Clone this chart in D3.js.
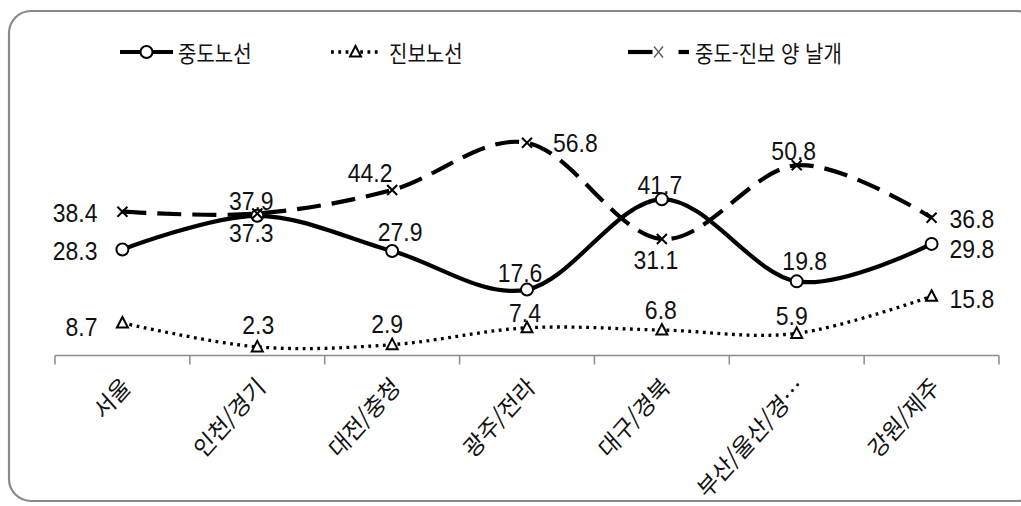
<!DOCTYPE html>
<html lang="ko">
<head>
<meta charset="utf-8">
<script src="https://cdn.jsdelivr.net/npm/d3@7"></script>
<style>
  html, body { margin: 0; padding: 0; background: #fff; }
  svg { display: block; font-family: "Noto Sans CJK KR", "Noto Sans", sans-serif; }
  .value { font-family: "Liberation Sans", Arial, sans-serif; }
</style>
</head>
<body>
<svg id="chart" width="1021" height="506"></svg>
<script>
// Regions and the three series (percent)
const categories = ["서울", "인천/경기", "대전/충청", "광주/전라", "대구/경북", "부산/울산/경…", "강원/제주"];
const seriesNames = ["중도노선", "진보노선", "중도-진보 양 날개"];
const centristValues = [28.3, 37.3, 27.9, 17.6, 41.7, 19.8, 29.8];
const progressiveValues = [8.7, 2.3, 2.9, 7.4, 6.8, 5.9, 15.8];
const bothWingsValues = [38.4, 37.9, 44.2, 56.8, 31.1, 50.8, 36.8];
const yDomain = [0, 60];

const svg = d3.select("#chart");
const TEXT_SY = 1.12; // glyphs are drawn slightly tall

// Rounded chart frame
svg.append("rect")
  .attr("x", 9).attr("y", 11)
  .attr("width", 1030).attr("height", 490)
  .attr("rx", 22).attr("ry", 22)
  .attr("fill", "#fff")
  .attr("stroke", "#8a8a8a")
  .attr("stroke-width", 2.2);

const x = d3.scaleBand().domain(categories).range([55, 999]).paddingInner(0).paddingOuter(0);
const cx = d => x(d) + x.bandwidth() / 2;
const y = d3.scaleLinear().domain(yDomain).range([355.5, 355.5 - 224.7]);

// Category axis along the zero line
const axisG = svg.append("g").attr("transform", `translate(0,${y(0)})`);
axisG.append("line")
  .attr("x1", x.range()[0]).attr("x2", x.range()[1])
  .attr("stroke", "#8c8c8c").attr("stroke-width", 1.5);
const tickXs = categories.map(c => x(c)).concat([x.range()[1]]);
axisG.selectAll("line.tick").data(tickXs).join("line")
  .attr("class", "tick")
  .attr("x1", d => d).attr("x2", d => d)
  .attr("y1", 0).attr("y2", 9)
  .attr("stroke", "#8c8c8c").attr("stroke-width", 1.5);

svg.append("g").selectAll("text").data(categories).join("text")
  .attr("transform", d => `translate(${cx(d) + 4},${y(0) + 27}) scale(1,${TEXT_SY}) rotate(-45)`)
  .attr("text-anchor", "end")
  .attr("dy", "0.35em")
  .attr("font-size", 22)
  .attr("fill", "#111")
  .text(d => d);

const series = [
  { name: seriesNames[0], values: centristValues, dash: null, width: 4.2, marker: "circle" },
  { name: seriesNames[1], values: progressiveValues, dash: "2.8 4.5", width: 3.3, marker: "triangle" },
  { name: seriesNames[2], values: bothWingsValues, dash: "24 11", width: 4.2, marker: "cross" }
];

// Label placement per series: [dx, dy, anchor]
const labelPlacement = [
  [[-25, 1, "end"], [-6, 17, "middle"], [8, -19, "middle"], [-7, -17, "middle"], [-2, -15, "middle"], [8, -21, "middle"], [18, 5, "start"]],
  [[-25, 4, "end"], [1, -22, "middle"], [-5, -21, "middle"], [-2, -15, "middle"], [-1, -20, "middle"], [-5, -18, "middle"], [18, 2, "start"]],
  [[-25, 1, "end"], [-6, -13, "middle"], [-22, -17, "middle"], [26, 0, "start"], [-6, 21, "middle"], [-3, -15, "middle"], [18, 1, "start"]]
];

const line = d3.line()
  .x((d, i) => cx(categories[i]))
  .y(d => y(d))
  .curve(d3.curveCatmullRom.alpha(0));

function drawMarker(g, type) {
  if (type === "circle") {
    g.append("circle").attr("r", 6).attr("fill", "#fff").attr("stroke", "#000").attr("stroke-width", 2);
  } else if (type === "triangle") {
    g.append("path").attr("d", "M0,-6L5.5,4.5L-5.5,4.5Z")
      .attr("fill", "#fff").attr("stroke", "#000").attr("stroke-width", 2);
  } else {
    g.append("path").attr("d", "M-5,-5L5,5M5,-5L-5,5")
      .attr("fill", "none").attr("stroke", "#000").attr("stroke-width", 2);
  }
}

series.forEach((s) => {
  const g = svg.append("g");
  g.append("path")
    .datum(s.values)
    .attr("d", line)
    .attr("fill", "none")
    .attr("stroke", "#000")
    .attr("stroke-width", s.width)
    .attr("stroke-dasharray", s.dash);
  s.values.forEach((v, i) => {
    const m = g.append("g").attr("transform", `translate(${cx(categories[i])},${y(v)})`);
    drawMarker(m, s.marker);
  });
});

// Data labels drawn after all lines
series.forEach((s, si) => {
  svg.append("g").selectAll("text").data(s.values).join("text")
    .attr("class", "value")
    .attr("transform", (v, i) =>
      `translate(${cx(categories[i]) + labelPlacement[si][i][0]},${y(v) + labelPlacement[si][i][1]}) scale(1,${TEXT_SY})`)
    .attr("text-anchor", (v, i) => labelPlacement[si][i][2])
    .attr("dy", "0.36em")
    .attr("font-size", 23)
    .attr("fill", "#111")
    .text(v => v.toFixed(1));
});

// Legend
const legendY = 52;
const legendItems = [
  { x0: 120, x1: 173, tx: 178 },
  { x0: 331, x1: 380, tx: 389 },
  { x0: 628, x1: 689, tx: 695 }
];
series.forEach((s, si) => {
  const it = legendItems[si];
  const g = svg.append("g");
  const mid = (it.x0 + it.x1) / 2;
  if (si === 2) {
    g.append("line").attr("x1", it.x0).attr("x2", mid - 6).attr("y1", legendY).attr("y2", legendY)
      .attr("stroke", "#000").attr("stroke-width", 4.2);
    g.append("line").attr("x1", mid + 20).attr("x2", it.x1).attr("y1", legendY).attr("y2", legendY)
      .attr("stroke", "#000").attr("stroke-width", 4.2);
  } else {
    g.append("line").attr("x1", it.x0).attr("x2", it.x1).attr("y1", legendY).attr("y2", legendY)
      .attr("stroke", "#000").attr("stroke-width", s.width).attr("stroke-dasharray", s.dash);
  }
  const m = g.append("g").attr("transform", `translate(${mid},${legendY})`);
  if (si === 2) {
    m.append("path").attr("d", "M-4.5,-5.5L4.5,5.5M4.5,-5.5L-4.5,5.5")
      .attr("fill", "none").attr("stroke", "#555").attr("stroke-width", 1.3);
  } else {
    drawMarker(m, s.marker);
  }
  g.append("text")
    .attr("transform", `translate(${it.tx},${legendY}) scale(1,${TEXT_SY})`)
    .attr("dominant-baseline", "central")
    .attr("font-size", 20)
    .attr("fill", "#111")
    .text(s.name);
});
</script>
</body>
</html>
